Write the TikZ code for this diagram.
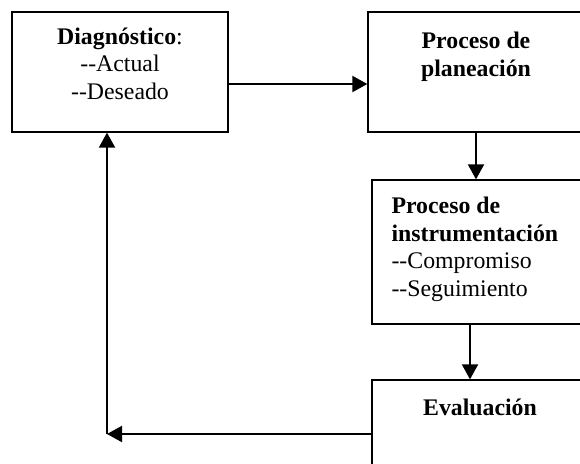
\documentclass[tikz,border=0pt]{standalone}
\usepackage{fontspec}
\setmainfont{Liberation Serif}
\usetikzlibrary{positioning,arrows.meta}
\newcommand{\guion}{\mbox{-}\mbox{-}}

\begin{document}
\begin{tikzpicture}[x=1pt,y=-1pt,
    box/.style={draw,line width=1.3pt,minimum width=216pt,inner sep=0pt},
    txt/.style={inner sep=0pt,font=\fontsize{23.8}{27.5}\selectfont},
    arr/.style={line width=2pt,-{Triangle[length=15pt,width=16pt]}}]
  \useasboundingbox (0,0) rectangle (580,463);
  \clip (0,0) rectangle (580,463);
  % cajas
  \node[box,minimum height=120pt] (diag) at (120,72) {};
  \node[box,minimum height=120pt] (plan) at (476,72) {};
  \node[box,minimum height=144pt] (instr) at (480,252) {};
  \node[box,minimum height=108pt] (eval) at (480,434) {};
  % textos
  \node[txt,align=center,below=16pt of diag.north] (diagtxt)
    {\textbf{Diagnóstico}:\\\guion Actual\\\guion Deseado};
  \node[txt,align=center,below=20.5pt of plan.north] (plantxt)
    {\textbf{Proceso de}\\\textbf{planeación}};
  \node[txt,align=left,below right=17.5pt and 20pt of instr.north west] (instrtxt)
    {\textbf{Proceso de}\\\textbf{instrumentación}\\\guion Compromiso\\\guion Seguimiento};
  \node[txt,below=19.5pt of eval.north] (evaltxt) {\textbf{Evaluación}};
  % flechas
  \coordinate (baja) at ([xshift=-10pt]instr.south);
  \coordinate (vuelta) at (107,434);
  \draw[arr] ([yshift=-12pt]diag.east) -- ([yshift=-12pt]plan.west);
  \draw[arr] (plan.south) -- (plan.south |- instr.north);
  \draw[arr] (baja) -- (baja |- eval.north);
  \draw[arr] (eval.west) -- (vuelta);
  \draw[arr] (vuelta) -- (vuelta |- diag.south);
\end{tikzpicture}
\end{document}
